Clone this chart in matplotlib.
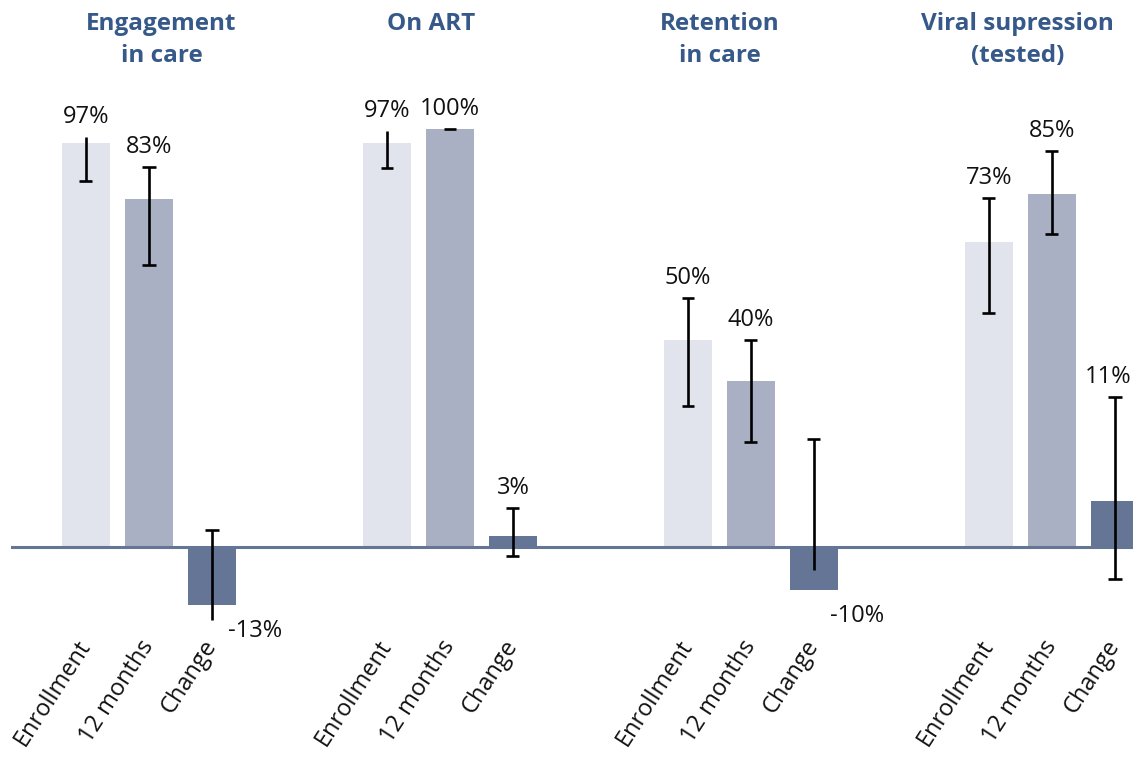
import matplotlib
matplotlib.use('Agg')
import matplotlib.pyplot as plt
from matplotlib import transforms

# ---------------- data ----------------
groups = ["Engagement\nin care", "On ART", "Retention\nin care", "Viral supression\n(tested)"]
bar_names = ["Enrollment", "12 months", "Change"]

enrollment = [96.7, 96.7, 49.5, 73.0]
twelve_months = [83.3, 100.0, 39.7, 84.4]
change = [-13.9, 2.6, -10.3, 11.0]

enrollment_lo = [87.6, 90.7, 33.7, 56.0]
enrollment_hi = [98.1, 99.5, 59.6, 83.5]
twelve_lo = [67.5, 100.0, 25.1, 74.9]
twelve_hi = [90.9, 100.0, 49.5, 94.7]
change_lo = [-17.5, -2.2, -5.5, -7.7]
change_hi = [4.1, 9.3, 25.8, 35.9]

enrollment_labels = ["97%", "97%", "50%", "73%"]
twelve_labels = ["83%", "100%", "40%", "85%"]
change_labels = ["-13%", "3%", "-10%", "11%"]

# which caps are drawn (as in the reference)
enrollment_caps = [(False, True), (False, True), (True, True), (True, True)]
twelve_caps = [(True, True), (True, False), (True, True), (True, True)]
change_caps = [(True, False), (True, True), (True, False), (True, True)]

# ---------------- style ----------------
colors = ["#e1e4ec", "#aab0c4", "#647596"]
title_color = "#36598a"
text_color = "#111111"
FONT = "Open Sans"
LABEL_FS = 17

W, H = 1133, 759
fig = plt.figure(figsize=(W / 100, H / 100), dpi=100)
ax_left, ax_right, ax_top, ax_bottom = 11, 1133, 100, 632
ax = fig.add_axes([ax_left / W, 1 - ax_bottom / H, (ax_right - ax_left) / W, (ax_bottom - ax_top) / H])

px_per_pct = 4.18
base_px = 547
ax.set_ylim(-(ax_bottom - base_px) / px_per_pct, (base_px - ax_top) / px_per_pct)

step_px = 63.0
group_px = 301.0
first_px = 86.0
group_gap = group_px / step_px
ax.set_xlim(-(first_px - ax_left) / step_px, (ax_right - first_px) / step_px)

width = 48 / step_px
cap_half = 6.5 / step_px

series = [
    (enrollment, enrollment_lo, enrollment_hi, enrollment_labels, enrollment_caps),
    (twelve_months, twelve_lo, twelve_hi, twelve_labels, twelve_caps),
    (change, change_lo, change_hi, change_labels, change_caps),
]

tick_pos, tick_lab = [], []
for i, (vals, lo, hi, labs, caps) in enumerate(series):
    xs = [g * group_gap + i for g in range(len(groups))]
    ax.bar(xs, vals, width=width, color=colors[i], zorder=2)
    ax.vlines(xs, lo, hi, color="black", lw=1.9, zorder=4)
    for x, l, h, (ct, cb), v, lab in zip(xs, lo, hi, caps, vals, labs):
        if ct:
            ax.hlines(h, x - cap_half, x + cap_half, color="black", lw=1.9, zorder=4)
        if cb:
            ax.hlines(l, x - cap_half, x + cap_half, color="black", lw=1.9, zorder=4)
        if v >= 0:
            t = ax.annotate(lab, (x, h), xytext=(0, 14.5), textcoords="offset points",
                            ha="center", va="center", fontsize=LABEL_FS, color=text_color,
                            family=FONT, zorder=5, annotation_clip=False)
        else:
            t = ax.annotate(lab, (x, v), xytext=(31, -19), textcoords="offset points",
                            ha="center", va="center", fontsize=LABEL_FS, color=text_color,
                            family=FONT, zorder=5, annotation_clip=False)
    tick_pos += xs
    tick_lab += [bar_names[i]] * len(xs)

ax.axhline(0, color="#647596", lw=2.2, zorder=3)

ax.set_xticks(tick_pos)
ax.set_xticklabels(tick_lab, rotation=57, ha="right", va="center",
                   rotation_mode="anchor", fontsize=LABEL_FS, color=text_color, family=FONT)
ax.tick_params(axis="x", length=0, pad=7)
ax.set_yticks([])
for s in ax.spines.values():
    s.set_visible(False)

# group titles
title_offsets = [0.2, -0.3, -0.5, -0.55]
trans = transforms.blended_transform_factory(ax.transData, fig.transFigure)
for g, (t, off) in enumerate(zip(groups, title_offsets)):
    xc = g * group_gap + 1 + off
    ax.text(xc, 1 - 12 / H, t, transform=trans, ha="center", va="top",
            fontsize=17.5, fontweight="bold", color=title_color, family=FONT,
            linespacing=1.45, clip_on=False)

fig.canvas.draw()
# keep value labels inside the figure
renderer = fig.canvas.get_renderer()
for txt in ax.texts:
    bb = txt.get_window_extent(renderer)
    if bb.x1 > W - 1:
        txt.set_horizontalalignment("right")
        pos = txt.xyann if hasattr(txt, "xyann") else None
        if pos is not None:
            txt.xyann = (pos[0] + (bb.width / 2 - (bb.x1 - (W - 2))) * 72 / 100, pos[1])

fig.savefig("out.png", dpi=100)
